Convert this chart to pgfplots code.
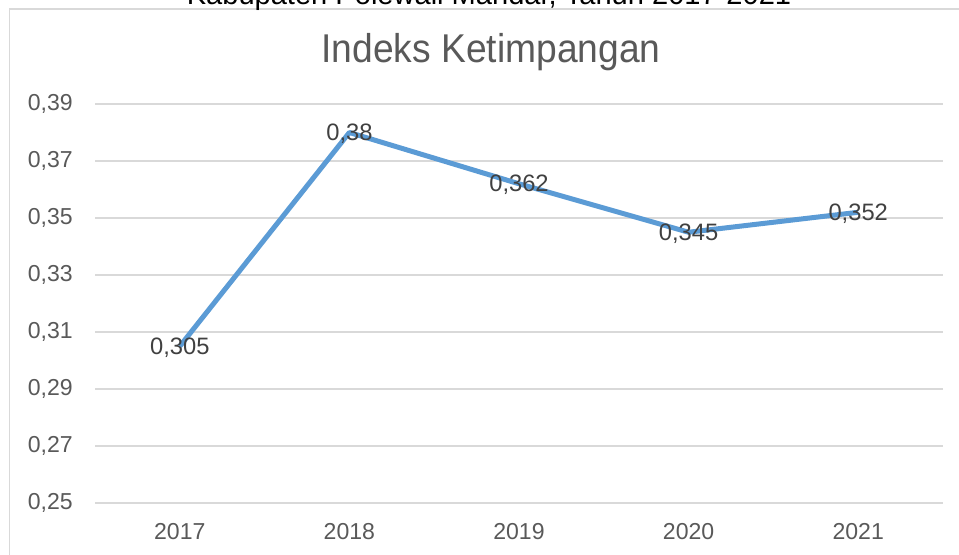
\documentclass[border=0pt]{standalone}
\usepackage{pgfplots}
\pgfplotsset{compat=1.18}
\usepackage{fontspec}
\setmainfont{Liberation Sans}
\definecolor{gridc}{HTML}{D9D9D9}
\definecolor{tickc}{HTML}{595959}
\definecolor{labc}{HTML}{404040}
\definecolor{linec}{HTML}{5B9BD5}
\begin{document}
\begin{tikzpicture}
\clip (0,0) rectangle (719.25pt,416.25pt);
\draw[gridc, line width=1.1pt] (7.125pt,-5pt) -- (7.125pt,409.5pt) -- (725pt,409.5pt);
\node[anchor=base, text=black, font=\fontsize{21.8}{24}\selectfont] at (366.75pt,412.5pt) {Kabupaten Polewali Mandar, Tahun 2017-2021};
\node[anchor=base, text=tickc, font=\fontsize{27.9}{30}\selectfont, yscale=1.08] at (368.25pt,369pt) {Indeks Ketimpangan};
\begin{axis}[
  at={(71.25pt,39pt)}, anchor=south west,
  scale only axis, width=636pt, height=299.25pt,
  xmin=-0.5, xmax=4.5, ymin=0.25, ymax=0.39,
  xtick={0,1,2,3,4}, xticklabels={2017,2018,2019,2020,2021},
  ytick={0.25,0.27,0.29,0.31,0.33,0.35,0.37,0.39},
  yticklabel={\pgfmathprintnumber[fixed,fixed zerofill,precision=2,use comma]{\tick}},
  /pgf/number format/assume math mode=true,
  ymajorgrids, grid style={gridc, line width=1.1pt},
  axis line style={draw=none}, major tick length=0pt,
  ticklabel style={text=tickc, font=\fontsize{17.3}{20}\selectfont},
  yticklabel style={anchor=east, inner sep=0pt, xshift=-16.5pt},
  xticklabel style={anchor=north, inner sep=0pt, yshift=-15pt},
  nodes near coords={\pgfmathprintnumber[fixed,precision=3,use comma]{\pgfplotspointmeta}},
  every node near coord/.append style={anchor=center, text=labc, font=\fontsize{17.8}{20}\selectfont, inner sep=0pt, yshift=-1pt},
  clip=false,
]
\addplot[linec, line width=3.75pt, line join=round, mark=none] coordinates {
(0,0.305) (1,0.380) (2,0.362) (3,0.345) (4,0.352)
};
\end{axis}
\end{tikzpicture}
\end{document}
